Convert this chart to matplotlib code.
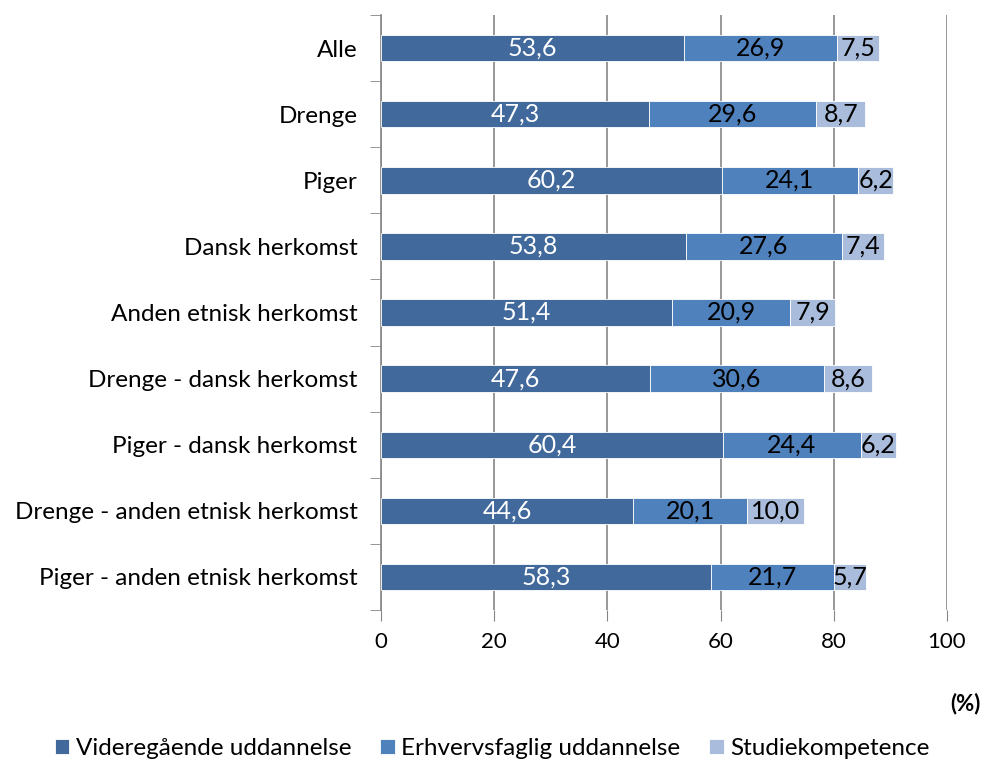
import matplotlib.pyplot as plt
import numpy as np

plt.rcParams['font.family'] = ['Lato', 'DejaVu Sans']

categories = ["Alle", "Drenge", "Piger", "Dansk herkomst", "Anden etnisk herkomst",
              "Drenge - dansk herkomst", "Piger - dansk herkomst",
              "Drenge - anden etnisk herkomst", "Piger - anden etnisk herkomst"]
videregaaende = [53.6, 47.3, 60.2, 53.8, 51.4, 47.6, 60.4, 44.6, 58.3]
erhvervsfaglig = [26.9, 29.6, 24.1, 27.6, 20.9, 30.6, 24.4, 20.1, 21.7]
studiekomp = [7.5, 8.7, 6.2, 7.4, 7.9, 8.6, 6.2, 10.0, 5.7]
series_names = ["Videregående uddannelse", "Erhvervsfaglig uddannelse", "Studiekompetence"]
colors = ["#41699B", "#4F81BD", "#A9BCDB"]
label_colors = ["white", "black", "black"]

fig = plt.figure(figsize=(9.84, 7.7), dpi=100)
ax = fig.add_axes([0.3872, 0.2078, 0.5752, 0.7727])

y = np.arange(len(categories))
left = np.zeros(len(categories))
handles = []
for vals, name, c, lc in zip([videregaaende, erhvervsfaglig, studiekomp], series_names, colors, label_colors):
    vals = np.array(vals)
    b = ax.barh(y, vals, left=left, height=0.4, color=c, edgecolor='white', linewidth=0.6,
                label=name, zorder=3)
    handles.append(b)
    for yi, l, v in zip(y, left, vals):
        ax.text(l + v / 2, yi, f"{v:.1f}".replace('.', ','), ha='center', va='center',
                color=lc, fontsize=18, zorder=4)
    left = left + vals

ax.set_xlim(0, 100)
ax.set_ylim(len(categories) - 0.5, -0.5)
ax.set_xticks(np.arange(0, 101, 20))
ax.tick_params(axis='x', length=8, color='#868686', labelsize=16, pad=8, direction='out')
ax.set_yticks(y)
ax.set_yticklabels(categories, fontsize=17.5)
ax.tick_params(axis='y', length=0, pad=17)
ax.set_yticks(np.arange(-0.5, len(categories) + 0.5, 1), minor=True)
ax.tick_params(axis='y', which='minor', length=8, color='#868686', direction='out')
ax.grid(axis='x', color='#868686', linewidth=1.2, zorder=0)
for s in ['top', 'right', 'bottom']:
    ax.spines[s].set_visible(False)
ax.spines['left'].set_color('#868686')
ax.spines['left'].set_linewidth(1.2)

fig.text(0.997, 0.087, "(%)", ha='right', va='center', fontsize=16, fontweight='bold')

fig.legend(handles=handles, loc='center', bbox_to_anchor=(0.5, 0.028), ncol=3, frameon=False,
           fontsize=17.5, handlelength=0.6, handleheight=0.6, handletextpad=0.25, columnspacing=1.2)

fig.savefig("out.png", dpi=100)
